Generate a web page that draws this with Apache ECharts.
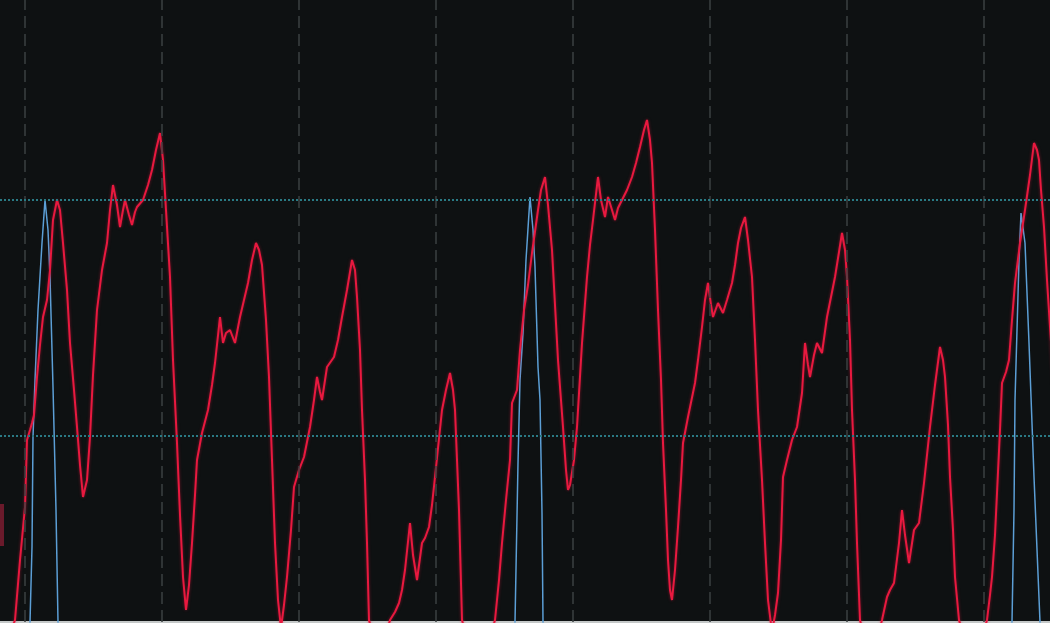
<!DOCTYPE html>
<html>
<head>
<meta charset="utf-8">
<title>CH1 / CH2</title>
<script src="https://cdn.jsdelivr.net/npm/echarts@6/dist/echarts.min.js"></script>
<style>
  html, body { margin: 0; padding: 0; background: #0e1112; }
  #scope { width: 1050px; height: 623px; }
</style>
</head>
<body>
<div id="scope"></div>
<script>
// Acquisition record: [sample index, level in ADC counts]
const ch1Samples = [
  [8,-18],[15,2],[20,62],[25,115],[27,182],[30,192],[32,199],[34,207],[37,245],[40,277],
  [43,305],[47,322],[50,352],[53,402],[57,422],[60,412],[63,379],[67,332],[70,279],[74,232],
  [77,195],[80,157],[83,125],[85,127],[87,142],[90,185],[93,247],[97,312],[102,352],[107,379],
  [110,412],[113,437],[117,417],[120,395],[123,412],[125,422],[129,407],[132,397],[135,410],[137,415],
  [143,422],[148,437],[152,452],[156,472],[160,489],[163,462],[166,412],[170,345],[173,262],[177,179],
  [180,107],[183,45],[186,12],[189,37],[192,79],[195,127],[197,162],[202,189],[208,212],[212,237],
  [215,259],[220,305],[223,279],[226,289],[230,292],[235,279],[240,305],[244,322],[248,339],[252,362],
  [256,379],[259,372],[262,357],[266,302],[269,245],[272,162],[275,79],[278,22],[281,-6],[284,17],
  [287,45],[291,92],[294,135],[299,152],[304,165],[310,195],[314,222],[317,245],[320,230],[322,222],
  [327,255],[334,265],[338,282],[342,305],[347,332],[352,362],[355,352],[357,325],[360,272],[362,212],
  [365,142],[367,79],[369,2],[379,-38],[390,2],[395,10],[399,19],[402,32],[405,52],[410,99],
  [413,67],[417,42],[422,79],[425,84],[429,95],[432,117],[435,145],[442,212],[446,232],[450,249],
  [453,232],[455,212],[457,162],[459,112],[462,2],[478,-58],[495,2],[499,42],[502,79],[506,122],
  [510,162],[512,219],[517,232],[520,272],[524,312],[528,337],[532,369],[538,412],[541,432],[545,445],
  [548,417],[552,372],[555,317],[558,262],[563,195],[566,152],[568,132],[570,137],[574,162],[577,195],
  [582,279],[587,345],[590,377],[593,402],[598,445],[601,422],[605,405],[608,425],[612,412],[615,402],
  [618,414],[622,422],[627,432],[632,445],[636,459],[640,475],[644,492],[647,502],[650,482],[652,459],
  [655,392],[658,312],[661,242],[663,179],[666,112],[668,62],[670,32],[672,22],[675,52],[678,95],
  [681,142],[683,179],[688,205],[695,239],[698,262],[702,295],[705,322],[708,339],[711,317],[713,305],
  [718,319],[723,309],[727,322],[732,339],[735,357],[738,379],[741,394],[745,405],[748,382],[752,345],
  [755,282],[758,212],[762,142],[765,79],[768,22],[772,-10],[775,7],[778,29],[781,82],[783,145],
  [787,162],[792,182],[797,195],[802,229],[805,279],[808,257],[810,245],[814,267],[817,279],[822,269],
  [827,305],[831,325],[835,345],[839,370],[842,389],[845,372],[847,345],[850,282],[852,212],[855,142],
  [857,79],[860,2],[871,-43],[882,2],[887,25],[890,32],[894,39],[899,79],[902,112],[905,87],
  [909,59],[914,92],[919,99],[924,139],[930,195],[935,237],[940,275],[943,262],[945,245],[948,197],
  [950,145],[953,92],[955,45],[959,2],[973,-48],[987,2],[990,27],[992,45],[995,87],[997,129],
  [1000,192],[1002,239],[1006,250],[1009,262],[1012,302],[1015,339],[1020,379],[1025,412],[1030,447],[1034,479],
  [1037,472],[1039,462],[1041,432],[1044,395],[1047,342],[1050,295],[1055,222]
];

const ch2Samples = [
  [-10,-38],[28,-38],[30,0],[32,75],[33,185],[35,242],[38,312],[42,379],[45,422],[48,392],
  [50,345],[53,235],[56,112],[58,0],[60,-38],
  [513,-38],[515,0],[518,159],[520,242],[523,289],[526,362],[530,425],[533,392],[535,355],[538,255],
  [540,222],[542,109],[543,0],[545,-38],
  [1010,-38],[1012,0],[1014,112],[1015,222],[1019,362],[1021,409],[1025,379],[1029,279],[1034,145],[1040,0],
  [1042,-38],[1060,-38]
];

// Cursor levels (counts) and CH1 ground reference
const cursorLevels = [422, 186];
const ch1GroundLevel = 97;

// Timebase: samples per horizontal division, trigger position in samples,
// visible record window in samples, graticule divisions
const SAMPLES_PER_DIV = 137;
const TRIGGER_SAMPLE = 24.5;
const recordWindow = [0, 1050];
const graticuleDivs = [0, 1, 2, 3, 4, 5, 6, 7];
const levelRange = { min: 0, max: 622 };

const toDiv = s => (s - TRIGGER_SAMPLE) / SAMPLES_PER_DIV;
const ch1 = ch1Samples.map(([s, v]) => [toDiv(s), v]);
const ch2 = ch2Samples.map(([s, v]) => [toDiv(s), v]);

const chart = echarts.init(document.getElementById('scope'), null, { renderer: 'canvas' });

chart.setOption({
  backgroundColor: '#0e1112',
  animation: false,
  grid: { left: 0, right: 0, top: 0, bottom: 1, containLabel: false },
  xAxis: {
    type: 'value',
    min: toDiv(recordWindow[0]),
    max: toDiv(recordWindow[1]),
    axisLabel: { show: false },
    axisTick: { show: false },
    axisLine: { show: true, onZero: false, lineStyle: { color: '#c4c8c8', width: 2 } },
    splitLine: { show: false }
  },
  yAxis: {
    type: 'value',
    min: levelRange.min,
    max: levelRange.max,
    axisLabel: { show: false },
    axisTick: { show: false },
    axisLine: { show: false },
    splitLine: { show: false }
  },
  series: [
    {
      name: 'graticule',
      type: 'line',
      data: [],
      silent: true,
      z: 1,
      markLine: {
        silent: true,
        symbol: 'none',
        label: { show: false },
        lineStyle: { color: '#3b4041', width: 1.5, type: [12, 6] },
        data: graticuleDivs.map(d => ({ xAxis: d }))
      }
    },
    {
      name: 'CH2',
      type: 'line',
      data: ch2,
      showSymbol: false,
      clip: true,
      z: 3,
      lineStyle: { color: '#5c9fd6', width: 1.5 },
      markLine: {
        silent: true,
        symbol: 'none',
        label: { show: false },
        lineStyle: { color: '#2a7a84', width: 2, type: [2, 2] },
        data: cursorLevels.map(v => ({ yAxis: v }))
      }
    },
    {
      name: 'CH1',
      type: 'line',
      data: ch1,
      showSymbol: false,
      clip: true,
      z: 4,
      lineStyle: { color: '#e8193f', width: 2, shadowColor: 'rgba(232,25,63,0.5)', shadowBlur: 3 },
      markPoint: {
        silent: true,
        symbol: 'rect',
        symbolSize: [8, 42],
        label: { show: false },
        itemStyle: { color: '#6a1a2b' },
        data: [{ coord: [toDiv(recordWindow[0]), ch1GroundLevel] }]
      }
    }
  ]
});
</script>
</body>
</html>
